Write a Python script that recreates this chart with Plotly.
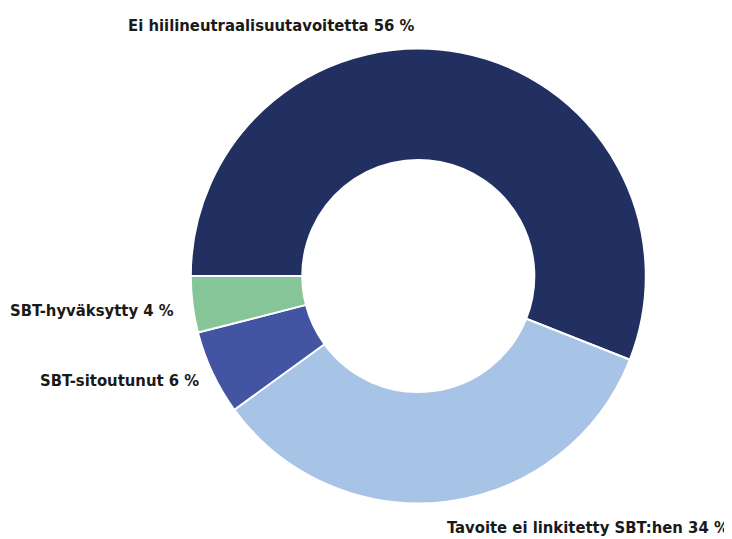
import plotly.graph_objects as go

labels = ["Ei hiilineutraalisuutavoitetta", "Tavoite ei linkitetty SBT:hen", "SBT-sitoutunut", "SBT-hyväksytty"]
values = [56, 34, 6, 4]
colors = ["#213061", "#a7c3e6", "#4354a2", "#86c598"]

OFF = 8  # page body margin
W, H = 732 - OFF, 539 - OFF
cx, cy, r = 418.3 - OFF, 276 - OFF, 227.5

fig = go.Figure(go.Pie(
    labels=labels, values=values, sort=False, direction="clockwise", rotation=270,
    hole=0.51, textinfo="none", hoverinfo="label+percent",
    marker=dict(colors=colors, line=dict(color="white", width=2)),
    domain=dict(x=[(cx - r) / W, (cx + r) / W], y=[(H - cy - r) / H, (H - cy + r) / H]),
    showlegend=False,
))

font = dict(family="Liberation Sans Narrow, DejaVu Sans Condensed, Arial Narrow, sans-serif", size=16.5, color="#1a1a1a")
label_pos = [  # (x, y, xanchor) in reference pixels
    (271, 25, "center"),
    (731, 527, "right"),
    (201, 380, "right"),
    (176, 310, "right"),
]
for lab, val, (x, y, xa) in zip(labels, values, label_pos):
    fig.add_annotation(x=(x - OFF) / W, y=1 - (y - OFF) / H, xref="paper", yref="paper", xanchor=xa, yanchor="middle",
                       text=f"<b>{lab} {val} %</b>", showarrow=False, font=font)

fig.update_layout(width=W, height=H, margin=dict(l=0, r=0, t=0, b=0),
                  paper_bgcolor="white", plot_bgcolor="white")
fig.write_html("out.html")
